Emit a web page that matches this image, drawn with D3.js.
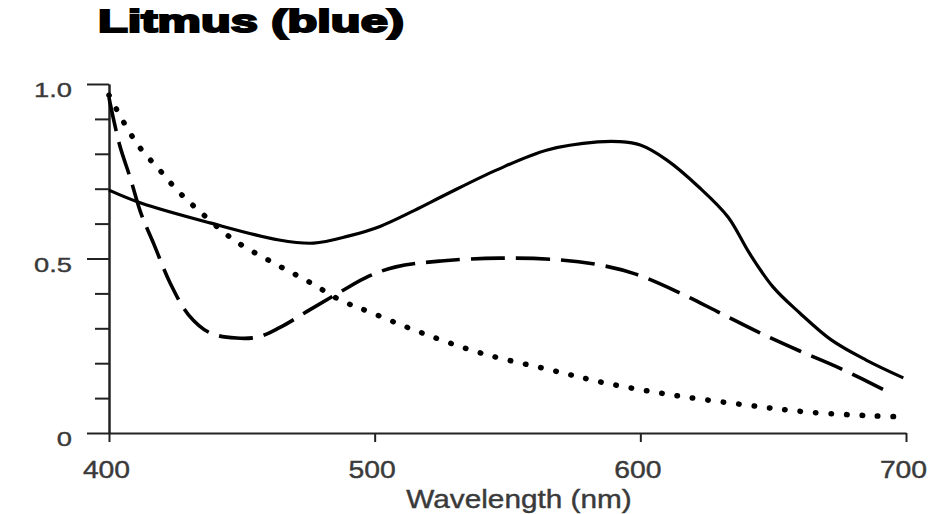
<!DOCTYPE html>
<html>
<head>
 <meta charset="UTF-8">
 <title>Litmus (blue)</title>
 <script src="https://cdn.jsdelivr.net/npm/d3@7"></script>
 <style>
body {
  margin: 0;
  background: #fff;
}
svg {
  display: block;
  font-family: "Liberation Sans", Arial, sans-serif;
}
.axis path, .axis line {
  stroke: #222;
  stroke-width: 2px;
}
.axis text, .label {
  fill: #3a3a3a;
  stroke: #3a3a3a;
  stroke-width: 0.4px;
}
.curve {
  fill: none;
  stroke: #000;
  stroke-width: 3.2px;
}
#dashed {
  stroke-width: 3.6px;
  stroke-dasharray: 34 11;
}
#dotted {
  stroke-width: 5.5px;
  stroke-linecap: round;
  stroke-dasharray: 0.5 15;
}
 </style>
</head>
<body>
<svg></svg>
<script>
// absorbance readings, three curves
var solidNm  = [400, 412, 438, 464, 477, 490, 502, 515, 527, 546, 565, 584, 592, 600, 610, 622, 633, 641, 650, 660, 672, 685, 699];
var solidAbs = [0.696, 0.659, 0.602, 0.553, 0.544, 0.564, 0.592, 0.638, 0.684, 0.754, 0.811, 0.834, 0.835, 0.825, 0.782, 0.705, 0.619, 0.516, 0.418, 0.344, 0.266, 0.209, 0.158];

var dashedNm  = [400, 404, 408, 412, 417, 423, 430, 438, 448, 456, 464, 476, 487, 498, 508, 525, 547, 570, 585, 598, 615, 630, 645, 660, 675, 694];
var dashedAbs = [0.96, 0.825, 0.731, 0.630, 0.539, 0.430, 0.338, 0.287, 0.272, 0.275, 0.301, 0.355, 0.404, 0.450, 0.476, 0.493, 0.501, 0.496, 0.481, 0.456, 0.401, 0.344, 0.287, 0.235, 0.186, 0.115];

var dottedNm  = [400, 407, 412, 419, 426, 434, 447, 462, 476, 487, 498, 517, 540, 566, 587, 612, 640, 663, 688, 700];
var dottedAbs = [0.968, 0.871, 0.814, 0.754, 0.693, 0.636, 0.553, 0.487, 0.430, 0.381, 0.347, 0.289, 0.229, 0.181, 0.143, 0.109, 0.080, 0.060, 0.049, 0.046];

var xTicks = [400, 500, 600, 700];
var yMajor = [0, 0.5, 1.0];
var yMinor = [0.1, 0.2, 0.3, 0.4, 0.6, 0.7, 0.8, 0.9];
var yLabels = ["0", "0.5", "1.0"];

var width = 940, height = 514;
var svg = d3.select("svg").attr("width", width).attr("height", height);

var xscale = d3.scaleLinear().domain([400, 700]).range([109, 906]);
var yscale = d3.scaleLinear().domain([0, 1]).range([433, 84]);

// title
svg.append("text")
  .attr("x", 98).attr("y", 32)
  .attr("textLength", 306).attr("lengthAdjust", "spacingAndGlyphs")
  .style("font-size", "31px").style("font-weight", "bold")
  .style("stroke", "#000").style("stroke-width", "2px")
  .text("Litmus (blue)");

// y axis: minor then major ticks
svg.append("g")
  .attr("class", "axis")
  .attr("transform", "translate(109,0)")
  .call(d3.axisLeft(yscale).tickValues(yMinor).tickSize(14).tickSizeOuter(0).tickFormat(""));
var yaxis = svg.append("g")
  .attr("class", "axis")
  .attr("transform", "translate(109,0)")
  .call(d3.axisLeft(yscale).tickValues(yMajor).tickSize(22).tickSizeOuter(0)
    .tickFormat(function(d, i){ return yLabels[i]; }));
yaxis.selectAll("text")
  .attr("x", 0).attr("dy", "0.32em")
  .attr("transform", "translate(-37,6) scale(1.3,1)")
  .style("font-size", "21px");

// x axis
var xaxis = svg.append("g")
  .attr("class", "axis")
  .attr("transform", "translate(0,433)")
  .call(d3.axisBottom(xscale).tickValues(xTicks).tickSize(9).tickSizeOuter(0));
xaxis.selectAll("text")
  .attr("y", 0).attr("dy", 0)
  .attr("transform", "translate(-3,45) scale(1.18,1)")
  .style("font-size", "24px");

svg.append("text")
  .attr("class", "label")
  .attr("transform", "translate(519,508) scale(1.19,1)")
  .attr("text-anchor", "middle")
  .style("font-size", "25px")
  .text("Wavelength (nm)");

// curves
function drawCurve(id, nm, abs){
  var pts = nm.map(function(n, i){ return [n, abs[i]]; });
  svg.append("path")
    .attr("id", id)
    .attr("class", "curve")
    .attr("d", d3.line()
      .curve(d3.curveCatmullRom.alpha(0.5))
      .x(function(d){ return xscale(d[0]); })
      .y(function(d){ return yscale(d[1]); })
      (pts));
}
drawCurve("solid", solidNm, solidAbs);
drawCurve("dashed", dashedNm, dashedAbs);
drawCurve("dotted", dottedNm, dottedAbs);
</script>
</body>
</html>
